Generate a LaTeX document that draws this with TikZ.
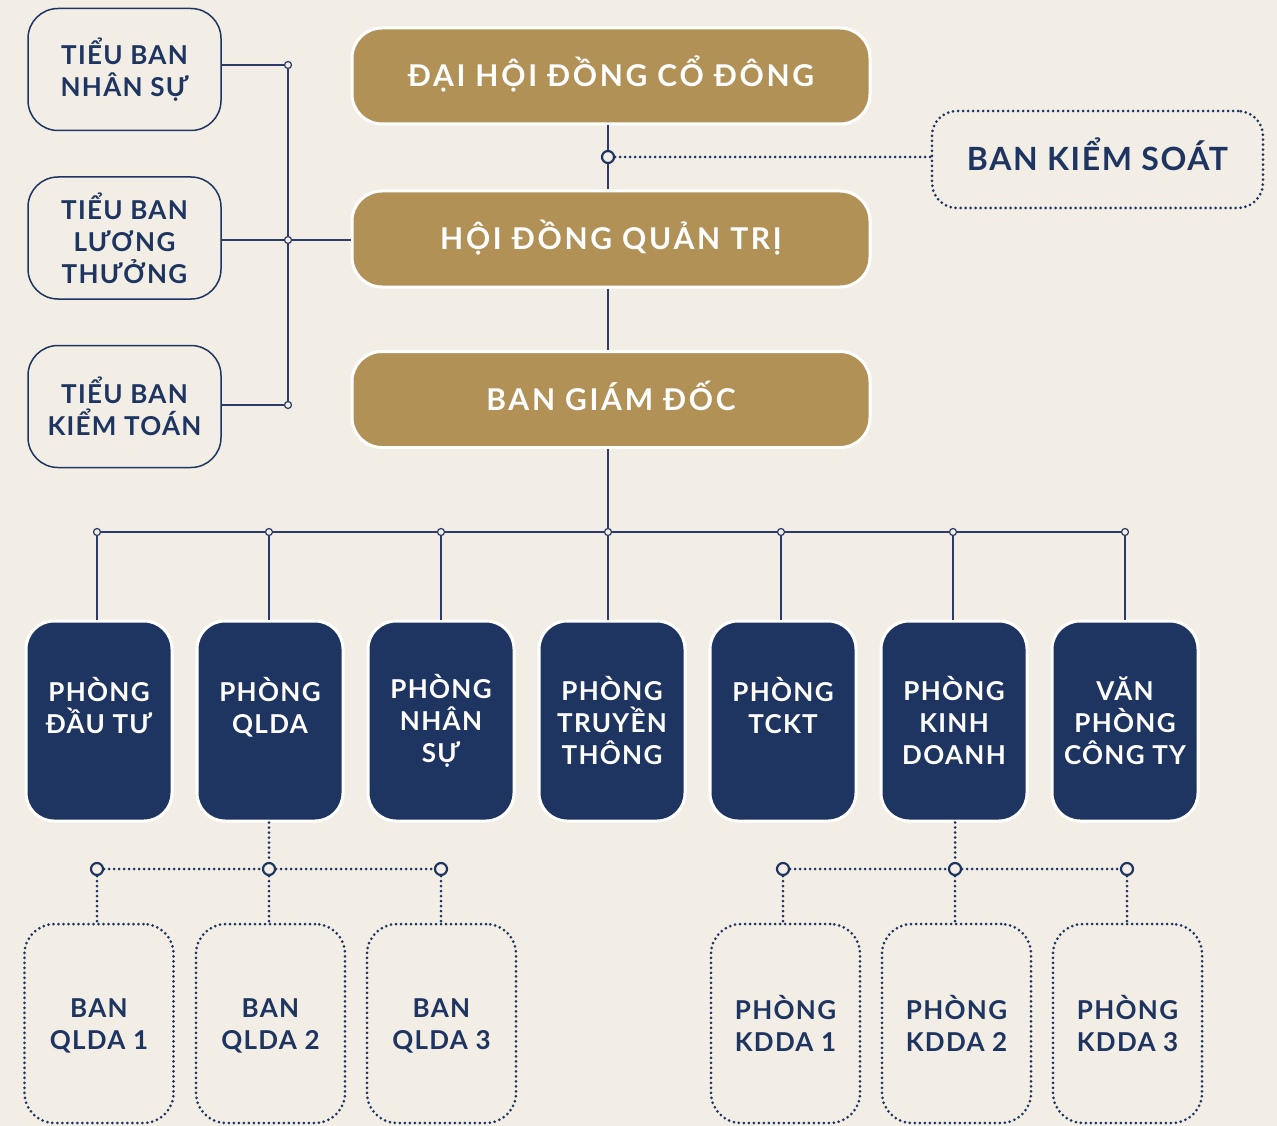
\documentclass[tikz,border=0pt]{standalone}
\usepackage{fontspec}
\newfontfamily\lbl{Lato}[LetterSpace=5]
\newfontfamily\glbl{Lato}[LetterSpace=9]
\definecolor{bg}{HTML}{F2EEE6}
\definecolor{gold}{HTML}{B29157}
\definecolor{navy}{HTML}{1E3461}
\definecolor{ln}{HTML}{2B3A66}
\begin{document}
\begin{tikzpicture}[x=1pt,y=-1pt,
  txt/.style={font=\lbl\bfseries\fontsize{26}{32}\selectfont, align=center, inner sep=0pt},
  leftbox/.style={txt, draw=navy, line width=1.5pt, rounded corners=30pt, minimum width=193pt, minimum height=122pt, text=navy},
  goldbox/.style={font=\glbl\bfseries\fontsize{30}{32}\selectfont, text height=21pt, text depth=0pt, inner sep=0pt, fill=gold, draw=white, line width=3pt, rounded corners=30pt, minimum width=518pt, minimum height=96pt, text=white},
  deptbox/.style={txt, fill=navy, draw=white, line width=3pt, rounded corners=28pt, minimum width=146pt, minimum height=200pt, text=white},
  dotline/.style={draw=navy, line width=3pt, line cap=round, dash pattern=on 0pt off 5pt},
  subbox/.style={txt, dotline, rounded corners=30pt, minimum width=149pt, minimum height=199pt, text=navy},
  ring/.style={circle, draw=navy, line width=2.2pt, fill=bg, minimum size=12pt, inner sep=0pt},
  dotj/.style={circle, draw=ln, line width=1.2pt, fill=bg, minimum size=7pt, inner sep=0pt},
  conn/.style={draw=ln, line width=1.5pt}
]
\fill[bg] (0,0) rectangle (1277,1126);
\useasboundingbox (0,0) rectangle (1277,1126);

% left committees
\node[leftbox] (tb1) at (124.5,69.5) {TIỂU BAN\\NHÂN SỰ};
\node[leftbox] (tb2) at (124.5,238) {TIỂU BAN\\LƯƠNG\\THƯỞNG};
\node[leftbox] (tb3) at (124.5,406.5) {TIỂU BAN\\KIỂM TOÁN};
\node[dotj] (j1) at (288,65) {};
\node[dotj] (j2) at (288,240) {};
\node[dotj] (j3) at (288,405) {};

% top boxes
\node[goldbox] (g1) at (611,76) {ĐẠI HỘI ĐỒNG CỔ ĐÔNG};
\node[goldbox] (g2) at (611,239) {HỘI ĐỒNG QUẢN TRỊ};
\node[goldbox] (g3) at (611,399.5) {BAN GIÁM ĐỐC};
\node[font=\lbl\bfseries\fontsize{32}{36}\selectfont, text height=23pt, text depth=0pt, inner sep=0pt, text=navy, dotline, rounded corners=25pt, minimum width=331pt, minimum height=97pt] (bks) at (1097.5,159.5) {BAN KIỂM SOÁT};
\node[ring] (r0) at (608,157) {};

% left connectors
\draw[conn] (tb1.east |- j1) -- (j1);
\draw[conn] (tb2.east |- j2) -- (j2);
\draw[conn] (tb3.east |- j3) -- (j3);
\draw[conn] (j1) -- (j2) -- (j3);
\draw[conn] (j2) -- (j2 -| g2.west);

% central spine
\draw[conn] (g1.south -| r0) -- (r0);
\draw[conn] (r0) -- (g2.north -| r0);
\draw[dotline] (r0) -- (r0 -| bks.west);

% departments
\node[deptbox] (d1) at (99,721) {PHÒNG\\ĐẦU TƯ\\~};
\node[deptbox] (d2) at (270,721) {PHÒNG\\QLDA\\~};
\node[deptbox] (d3) at (441,721) {PHÒNG\\NHÂN\\SỰ};
\node[deptbox] (d4) at (612,721) {PHÒNG\\TRUYỀN\\THÔNG};
\node[deptbox] (d5) at (783,721) {PHÒNG\\TCKT\\~};
\node[deptbox] (d6) at (954,721) {PHÒNG\\KINH\\DOANH};
\node[deptbox] (d7) at (1125,721) {VĂN\\PHÒNG\\CÔNG TY};

\node[dotj] (b1) at (97,532) {};
\node[dotj] (b2) at (269,532) {};
\node[dotj] (b3) at (441,532) {};
\node[dotj] (b4) at (608,532) {};
\node[dotj] (b5) at (781,532) {};
\node[dotj] (b6) at (953,532) {};
\node[dotj] (b7) at (1125,532) {};

\draw[conn] (g2.south -| b4) -- (g3.north -| b4);
\draw[conn] (g3.south -| b4) -- (b4);
\draw[conn] (b1) -- (b2) -- (b3) -- (b4) -- (b5) -- (b6) -- (b7);
\foreach \i in {1,...,7} \draw[conn] (b\i) -- (b\i |- d\i.north);

% sub units
\node[ring] (q1) at (97,869) {};
\node[ring] (q2) at (269,869) {};
\node[ring] (q3) at (441,869) {};
\node[ring] (k1) at (783,869) {};
\node[ring] (k2) at (955,869) {};
\node[ring] (k3) at (1127,869) {};

\node[subbox] (s1) at (99,1023.5) {\vphantom{Ò}BAN\\QLDA 1};
\node[subbox] (s2) at (270.5,1023.5) {\vphantom{Ò}BAN\\QLDA 2};
\node[subbox] (s3) at (441.5,1023.5) {\vphantom{Ò}BAN\\QLDA 3};
\node[subbox] (s4) at (785.5,1023.5) {PHÒNG\\KDDA 1};
\node[subbox] (s5) at (956.5,1023.5) {PHÒNG\\KDDA 2};
\node[subbox] (s6) at (1127.5,1023.5) {PHÒNG\\KDDA 3};

\draw[dotline] (d2.south -| q2) -- (q2);
\draw[dotline] (d6.south -| k2) -- (k2);
\draw[dotline] (q1) -- (q2) -- (q3);
\draw[dotline] (k1) -- (k2) -- (k3);
\draw[dotline] (q1) -- (q1 |- s1.north);
\draw[dotline] (q2) -- (q2 |- s2.north);
\draw[dotline] (q3) -- (q3 |- s3.north);
\draw[dotline] (k1) -- (k1 |- s4.north);
\draw[dotline] (k2) -- (k2 |- s5.north);
\draw[dotline] (k3) -- (k3 |- s6.north);
\end{tikzpicture}
\end{document}
